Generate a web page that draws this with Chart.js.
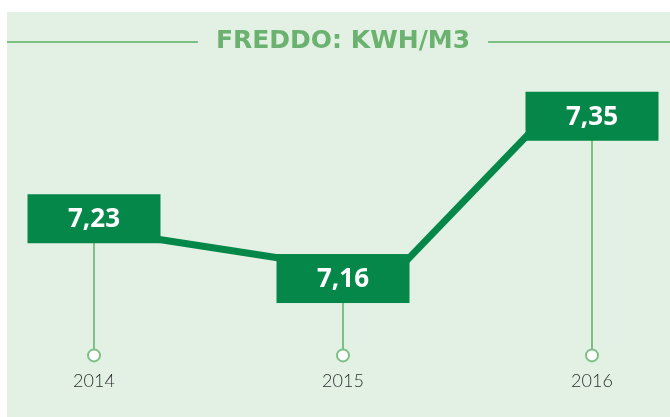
<!DOCTYPE html>
<html>
<head>
<meta charset="utf-8">
<script src="https://cdn.jsdelivr.net/npm/chart.js@4.4.1/dist/chart.umd.min.js"></script>
<style>
  html, body { margin: 0; padding: 0; background: #ffffff; }
  #wrap { position: absolute; left: 7px; top: 12px; width: 663px; height: 405px; background: #e3f1e4; }
</style>
</head>
<body>
<div id="wrap"><canvas id="myChart"></canvas></div>
<script>
const years = ['2014', '2015', '2016'];
const kwhPerM3 = [7.23, 7.16, 7.35];
const valueLabels = ['7,23', '7,16', '7,35'];
const titleText = 'FREDDO: KWH/M3';

const darkGreen = '#06874a';
const lightGreen = '#7dbf85';
const titleGreen = '#6bb16f';
const boxW = 133, boxH = 49, lineW = 7;

const decor = {
  id: 'decor',
  beforeDatasetsDraw(chart) {
    const ctx = chart.ctx;
    const bottom = chart.chartArea.bottom;
    const pts = chart.getDatasetMeta(0).data;
    ctx.save();
    // stems and end circles
    ctx.strokeStyle = lightGreen;
    ctx.lineWidth = 2;
    pts.forEach(pt => {
      ctx.beginPath();
      ctx.moveTo(pt.x, pt.y);
      ctx.lineTo(pt.x, bottom - 6);
      ctx.stroke();
      ctx.beginPath();
      ctx.arc(pt.x, bottom, 6, 0, Math.PI * 2);
      ctx.fillStyle = '#ffffff';
      ctx.fill();
      ctx.stroke();
    });
    // connectors run corner to corner between the value boxes
    ctx.strokeStyle = darkGreen;
    ctx.lineWidth = lineW;
    const hw = boxW / 2, hh = boxH / 2 - lineW / 2;
    for (let i = 0; i < pts.length - 1; i++) {
      const a = pts[i], b = pts[i + 1];
      const dir = b.y > a.y ? 1 : -1;
      const x1 = a.x + hw, y1 = a.y + dir * hh;
      const x2 = b.x - hw, y2 = b.y - dir * hh;
      const len = Math.hypot(x2 - x1, y2 - y1);
      const ux = (x2 - x1) / len * 6, uy = (y2 - y1) / len * 6;
      ctx.beginPath();
      ctx.moveTo(x1 - ux, y1 - uy);
      ctx.lineTo(x2 + ux, y2 + uy);
      ctx.stroke();
    }
    ctx.restore();
  },
  afterDatasetsDraw(chart) {
    const ctx = chart.ctx;
    ctx.save();
    chart.getDatasetMeta(0).data.forEach((pt, i) => {
      ctx.fillStyle = darkGreen;
      ctx.fillRect(pt.x - boxW / 2, pt.y - boxH / 2, boxW, boxH);
      ctx.fillStyle = '#ffffff';
      ctx.font = 'bold 26px "Open Sans"';
      ctx.textAlign = 'center';
      ctx.textBaseline = 'middle';
      ctx.fillText(valueLabels[i], pt.x, pt.y + 1);
    });
    ctx.restore();
  },
  afterDraw(chart) {
    // rules either side of the title
    const ctx = chart.ctx;
    const tb = chart.titleBlock;
    ctx.save();
    ctx.font = 'bold 25px "DejaVu Sans"';
    const w = ctx.measureText(titleText).width;
    const cx = (tb.left + tb.right) / 2;
    const y = tb.top + 14 + 16;
    ctx.strokeStyle = lightGreen;
    ctx.lineWidth = 2;
    ctx.beginPath();
    ctx.moveTo(0, y);
    ctx.lineTo(cx - w / 2 - 18, y);
    ctx.moveTo(cx + w / 2 + 18, y);
    ctx.lineTo(chart.width, y);
    ctx.stroke();
    ctx.restore();
  }
};

new Chart(document.getElementById('myChart'), {
  type: 'line',
  data: {
    labels: years,
    datasets: [{
      data: kwhPerM3,
      showLine: false,
      pointRadius: 0,
      clip: false
    }]
  },
  options: {
    responsive: true,
    maintainAspectRatio: false,
    animation: false,
    layout: { padding: { left: 87, right: 78, top: 0, bottom: 10 } },
    plugins: {
      legend: { display: false },
      tooltip: { enabled: false },
      title: {
        display: true,
        text: titleText,
        color: titleGreen,
        font: { family: 'DejaVu Sans', size: 25, weight: 'bold' },
        padding: { top: 14, bottom: 9 }
      }
    },
    scales: {
      x: {
        offset: false,
        grid: { display: false, drawTicks: false },
        border: { display: false },
        ticks: { color: '#2e2e2e', padding: 15, font: { family: 'Lato', size: 18, weight: '300' } }
      },
      y: { display: false, min: 7.07, max: 7.41 }
    }
  },
  plugins: [decor]
});
</script>
</body>
</html>
